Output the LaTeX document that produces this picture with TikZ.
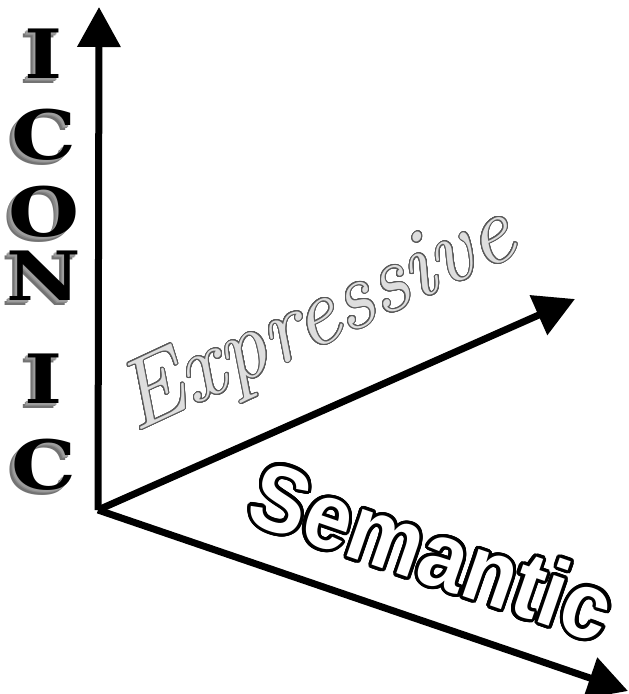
\documentclass[tikz,border=0pt]{standalone}
\usepackage{fontspec}
\usepackage{contour}
\usetikzlibrary{arrows.meta}
\newfontfamily\semfont{Liberation Sans}[FakeStretch=0.9]
\newfontfamily\iconfont{DejaVu Serif}[FakeStretch=1.2]
\definecolor{exprfill}{gray}{0.87}
\definecolor{exprline}{gray}{0.35}
\definecolor{shadegray}{gray}{0.45}
\contournumber{32}
% letter pushed out towards the lower left in gray
\newcommand\shcopy[3]{\rlap{\kern-#1pt\raisebox{-#1pt}{\textcolor{#2}{#3}}}}
\newcommand\shaded[1]{\shcopy{5}{shadegray}{#1}\shcopy{3.5}{shadegray!85}{#1}%
  \shcopy{2}{shadegray!70}{#1}#1}

\begin{document}
\begin{tikzpicture}[x=1pt, y=-1pt,
  axis/.style={line width=7pt, -{Triangle[length=40pt, width=42pt]}},
  letter/.style={anchor=base, inner sep=0pt,
    font=\fontsize{68}{68}\selectfont\iconfont\bfseries},
  expr/.style={inner sep=0pt, rotate=25,
    font=\fontsize{96}{96}\selectfont\itshape},
  sem/.style={inner sep=0pt, rotate=-19,
    font=\fontsize{94}{94}\selectfont\semfont\bfseries}
]
\useasboundingbox (0,0) rectangle (629,694);

\coordinate (o) at (98,510);
\coordinate (iconicTip) at (99,7);
\coordinate (exprTip) at (575,299);
\coordinate (semTip) at (628,691);

\draw[axis] (o) -- (iconicTip);
\draw[axis] (o) -- (exprTip);
\draw[axis] (o) -- (semTip);

\foreach \l/\y [count=\i] in {I/78,C/159,O/236,N/300,I/403,C/489}
  \node[letter] (L\i) at (44,\y) {\shaded{\l}};

\node[expr] (expressive) at (318,322)
  {\contourlength{1pt}\contour{exprline}{\textcolor{exprfill}{Expressive}}};

\node[sem] (semantic) at (432,552)
  {\contourlength{3.2pt}\contour{black}{\textcolor{white}{Semantic}}};
\end{tikzpicture}
\end{document}
